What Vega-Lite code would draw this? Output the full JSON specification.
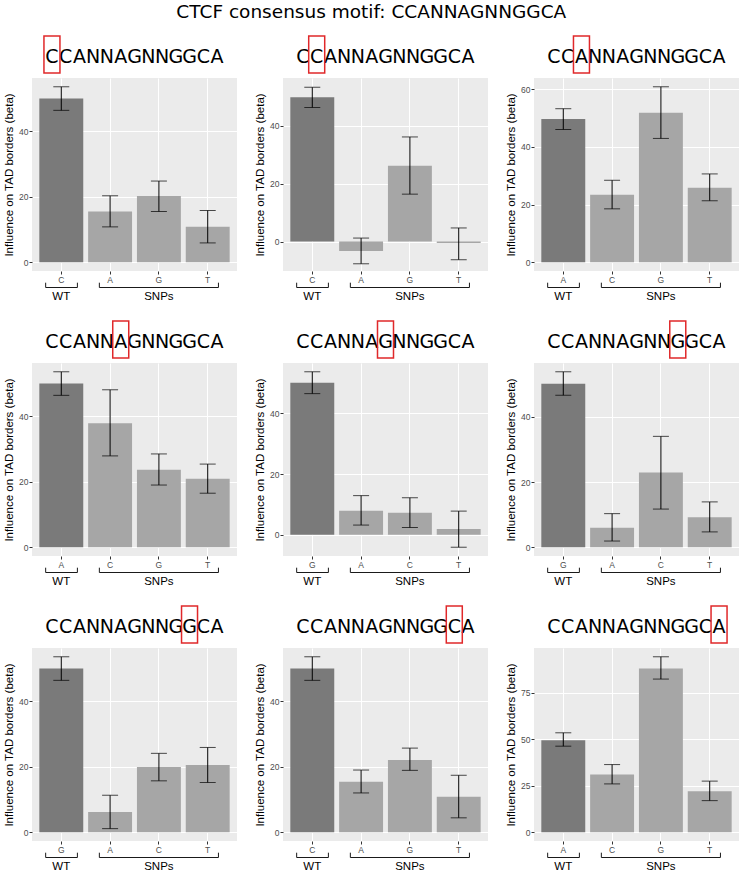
{
"$schema":"https://vega.github.io/schema/vega-lite/v6.json",
"padding":{"left":3,"top":2,"right":0,"bottom":0},
"title":{"text":"CTCF consensus motif: CCANNAGNNGGCA","font":"DejaVu Sans","fontSize":18.5,"fontWeight":"normal","color":"black","anchor":"middle","offset":14},
"datasets":{"motif":[{"i":1,"ch":"C"},{"i":2,"ch":"C"},{"i":3,"ch":"A"},{"i":4,"ch":"N"},{"i":5,"ch":"N"},{"i":6,"ch":"A"},{"i":7,"ch":"G"},{"i":8,"ch":"N"},{"i":9,"ch":"N"},{"i":10,"ch":"G"},{"i":11,"ch":"G"},{"i":12,"ch":"C"},{"i":13,"ch":"A"}]},
"config":{"view":{"stroke":null},"font":"Liberation Sans",
 "axis":{"domain":false,"gridColor":"white","tickColor":"#333333","tickSize":3,"labelPadding":1,"labelColor":"#4D4D4D","labelFontSize":8.5,"labelFont":"Liberation Sans","titleFont":"Liberation Sans","titleFontSize":11.5,"titleFontWeight":"normal","titleColor":"black","titlePadding":4,"labelOverlap":false}},
"spacing":16,
"vconcat":[
{"spacing":17,"hconcat":[
 {"bounds":"flush","spacing":5,"vconcat":[
  {"width":205,"height":37,"data":{"name":"motif"},"encoding":{"x":{"field":"i","type":"quantitative","scale":{"domain":[-0.45,14.45],"nice":false,"zero":false},"axis":null}},
   "layer":[{"mark":{"type":"text","font":"DejaVu Sans","fontSize":19,"baseline":"middle","dy":2,"color":"black"},"encoding":{"text":{"field":"ch"}}},
            {"transform":[{"filter":"datum.i === 1"}],"mark":{"type":"rect","width":16,"fill":"transparent","stroke":"#e0282a","strokeWidth":1.5},"encoding":{}}]},
  {"width":205,"height":193,"view":{"fill":"#EBEBEB","stroke":null},
   "data":{"values":[{"base":"C","group":"WT","beta":50.0,"lo":46.4,"hi":53.6},{"base":"A","group":"SNPs","beta":15.5,"lo":10.8,"hi":20.3},{"base":"G","group":"SNPs","beta":20.2,"lo":15.5,"hi":24.8},{"base":"T","group":"SNPs","beta":10.8,"lo":5.9,"hi":15.8}]},
   "encoding":{"x":{"field":"base","type":"nominal","sort":null,"scale":{"paddingInner":0.1,"paddingOuter":0.15},"axis":{"title":null,"labelAngle":0,"grid":true,"gridWidth":1.1}}},
   "layer":[
    {"mark":"bar","encoding":{"y":{"field":"beta","type":"quantitative","scale":{"domain":[-2.68,56.28],"nice":false,"zero":false},"axis":{"title":"Influence on TAD borders (beta)","values":[0,10,20,30,40,50],"labelExpr":"datum.value % 20 === 0 ? datum.label : ''","gridWidth":{"condition":{"test":"datum.value % 20 === 0","value":1.1},"value":0.5},"tickOpacity":{"condition":{"test":"datum.value % 20 === 0","value":1},"value":0}}},"color":{"field":"group","type":"nominal","scale":{"domain":["WT","SNPs"],"range":["#7a7a7a","#a6a6a6"]},"legend":null}}},
    {"mark":{"type":"rule","color":"black"},"encoding":{"y":{"field":"lo","type":"quantitative","scale":{"domain":[-2.68,56.28],"nice":false,"zero":false}},"y2":{"field":"hi"}}},
    {"mark":{"type":"tick","color":"black","size":16,"thickness":1},"encoding":{"y":{"field":"lo","type":"quantitative","scale":{"domain":[-2.68,56.28],"nice":false,"zero":false}}}},
    {"mark":{"type":"tick","color":"black","size":16,"thickness":1},"encoding":{"y":{"field":"hi","type":"quantitative","scale":{"domain":[-2.68,56.28],"nice":false,"zero":false}}}}]},
  {"width":205,"height":28,"data":{"values":[{}]},"layer":[
   {"mark":{"type":"rule","color":"#1a1a1a"},"encoding":{"x":{"datum":0.68,"type":"quantitative","scale":{"domain":[0.4,4.6]},"axis":null},"x2":{"datum":1.33},"y":{"datum":16.5,"type":"quantitative","scale":{"domain":[0,28]},"axis":null}}},
   {"mark":{"type":"rule","color":"#1a1a1a"},"encoding":{"x":{"datum":0.68,"type":"quantitative","scale":{"domain":[0.4,4.6]},"axis":null},"y":{"datum":16.5,"type":"quantitative","scale":{"domain":[0,28]},"axis":null},"y2":{"datum":21.3}}},
   {"mark":{"type":"rule","color":"#1a1a1a"},"encoding":{"x":{"datum":1.33,"type":"quantitative","scale":{"domain":[0.4,4.6]},"axis":null},"y":{"datum":16.5,"type":"quantitative","scale":{"domain":[0,28]},"axis":null},"y2":{"datum":21.3}}},
   {"mark":{"type":"rule","color":"#1a1a1a"},"encoding":{"x":{"datum":1.78,"type":"quantitative","scale":{"domain":[0.4,4.6]},"axis":null},"x2":{"datum":4.22},"y":{"datum":16.5,"type":"quantitative","scale":{"domain":[0,28]},"axis":null}}},
   {"mark":{"type":"rule","color":"#1a1a1a"},"encoding":{"x":{"datum":1.78,"type":"quantitative","scale":{"domain":[0.4,4.6]},"axis":null},"y":{"datum":16.5,"type":"quantitative","scale":{"domain":[0,28]},"axis":null},"y2":{"datum":21.3}}},
   {"mark":{"type":"rule","color":"#1a1a1a"},"encoding":{"x":{"datum":4.22,"type":"quantitative","scale":{"domain":[0.4,4.6]},"axis":null},"y":{"datum":16.5,"type":"quantitative","scale":{"domain":[0,28]},"axis":null},"y2":{"datum":21.3}}},
   {"mark":{"type":"text","text":"WT","font":"Liberation Sans","fontSize":11.5,"baseline":"middle","color":"black"},"encoding":{"x":{"datum":1,"type":"quantitative","scale":{"domain":[0.4,4.6]},"axis":null},"y":{"datum":7,"type":"quantitative","scale":{"domain":[0,28]},"axis":null}}},
   {"mark":{"type":"text","text":"SNPs","font":"Liberation Sans","fontSize":11.5,"baseline":"middle","color":"black"},"encoding":{"x":{"datum":3,"type":"quantitative","scale":{"domain":[0.4,4.6]},"axis":null},"y":{"datum":7,"type":"quantitative","scale":{"domain":[0,28]},"axis":null}}}]}
 ]},
 {"bounds":"flush","spacing":5,"vconcat":[
  {"width":205,"height":37,"data":{"name":"motif"},"encoding":{"x":{"field":"i","type":"quantitative","scale":{"domain":[-0.45,14.45],"nice":false,"zero":false},"axis":null}},
   "layer":[{"mark":{"type":"text","font":"DejaVu Sans","fontSize":19,"baseline":"middle","dy":2,"color":"black"},"encoding":{"text":{"field":"ch"}}},
            {"transform":[{"filter":"datum.i === 2"}],"mark":{"type":"rect","width":16,"fill":"transparent","stroke":"#e0282a","strokeWidth":1.5},"encoding":{}}]},
  {"width":205,"height":193,"view":{"fill":"#EBEBEB","stroke":null},
   "data":{"values":[{"base":"C","group":"WT","beta":49.9,"lo":46.4,"hi":53.4},{"base":"A","group":"SNPs","beta":-3.3,"lo":-7.7,"hi":1.2},{"base":"G","group":"SNPs","beta":26.2,"lo":16.4,"hi":36.2},{"base":"T","group":"SNPs","beta":-0.5,"lo":-6.3,"hi":4.7}]},
   "encoding":{"x":{"field":"base","type":"nominal","sort":null,"scale":{"paddingInner":0.1,"paddingOuter":0.15},"axis":{"title":null,"labelAngle":0,"grid":true,"gridWidth":1.1}}},
   "layer":[
    {"mark":"bar","encoding":{"y":{"field":"beta","type":"quantitative","scale":{"domain":[-10.2,56.6],"nice":false,"zero":false},"axis":{"title":"Influence on TAD borders (beta)","values":[0,10,20,30,40,50],"labelExpr":"datum.value % 20 === 0 ? datum.label : ''","gridWidth":{"condition":{"test":"datum.value % 20 === 0","value":1.1},"value":0.5},"tickOpacity":{"condition":{"test":"datum.value % 20 === 0","value":1},"value":0}}},"color":{"field":"group","type":"nominal","scale":{"domain":["WT","SNPs"],"range":["#7a7a7a","#a6a6a6"]},"legend":null}}},
    {"mark":{"type":"rule","color":"black"},"encoding":{"y":{"field":"lo","type":"quantitative","scale":{"domain":[-10.2,56.6],"nice":false,"zero":false}},"y2":{"field":"hi"}}},
    {"mark":{"type":"tick","color":"black","size":16,"thickness":1},"encoding":{"y":{"field":"lo","type":"quantitative","scale":{"domain":[-10.2,56.6],"nice":false,"zero":false}}}},
    {"mark":{"type":"tick","color":"black","size":16,"thickness":1},"encoding":{"y":{"field":"hi","type":"quantitative","scale":{"domain":[-10.2,56.6],"nice":false,"zero":false}}}}]},
  {"width":205,"height":28,"data":{"values":[{}]},"layer":[
   {"mark":{"type":"rule","color":"#1a1a1a"},"encoding":{"x":{"datum":0.68,"type":"quantitative","scale":{"domain":[0.4,4.6]},"axis":null},"x2":{"datum":1.33},"y":{"datum":16.5,"type":"quantitative","scale":{"domain":[0,28]},"axis":null}}},
   {"mark":{"type":"rule","color":"#1a1a1a"},"encoding":{"x":{"datum":0.68,"type":"quantitative","scale":{"domain":[0.4,4.6]},"axis":null},"y":{"datum":16.5,"type":"quantitative","scale":{"domain":[0,28]},"axis":null},"y2":{"datum":21.3}}},
   {"mark":{"type":"rule","color":"#1a1a1a"},"encoding":{"x":{"datum":1.33,"type":"quantitative","scale":{"domain":[0.4,4.6]},"axis":null},"y":{"datum":16.5,"type":"quantitative","scale":{"domain":[0,28]},"axis":null},"y2":{"datum":21.3}}},
   {"mark":{"type":"rule","color":"#1a1a1a"},"encoding":{"x":{"datum":1.78,"type":"quantitative","scale":{"domain":[0.4,4.6]},"axis":null},"x2":{"datum":4.22},"y":{"datum":16.5,"type":"quantitative","scale":{"domain":[0,28]},"axis":null}}},
   {"mark":{"type":"rule","color":"#1a1a1a"},"encoding":{"x":{"datum":1.78,"type":"quantitative","scale":{"domain":[0.4,4.6]},"axis":null},"y":{"datum":16.5,"type":"quantitative","scale":{"domain":[0,28]},"axis":null},"y2":{"datum":21.3}}},
   {"mark":{"type":"rule","color":"#1a1a1a"},"encoding":{"x":{"datum":4.22,"type":"quantitative","scale":{"domain":[0.4,4.6]},"axis":null},"y":{"datum":16.5,"type":"quantitative","scale":{"domain":[0,28]},"axis":null},"y2":{"datum":21.3}}},
   {"mark":{"type":"text","text":"WT","font":"Liberation Sans","fontSize":11.5,"baseline":"middle","color":"black"},"encoding":{"x":{"datum":1,"type":"quantitative","scale":{"domain":[0.4,4.6]},"axis":null},"y":{"datum":7,"type":"quantitative","scale":{"domain":[0,28]},"axis":null}}},
   {"mark":{"type":"text","text":"SNPs","font":"Liberation Sans","fontSize":11.5,"baseline":"middle","color":"black"},"encoding":{"x":{"datum":3,"type":"quantitative","scale":{"domain":[0.4,4.6]},"axis":null},"y":{"datum":7,"type":"quantitative","scale":{"domain":[0,28]},"axis":null}}}]}
 ]},
 {"bounds":"flush","spacing":5,"vconcat":[
  {"width":205,"height":37,"data":{"name":"motif"},"encoding":{"x":{"field":"i","type":"quantitative","scale":{"domain":[-0.45,14.45],"nice":false,"zero":false},"axis":null}},
   "layer":[{"mark":{"type":"text","font":"DejaVu Sans","fontSize":19,"baseline":"middle","dy":2,"color":"black"},"encoding":{"text":{"field":"ch"}}},
            {"transform":[{"filter":"datum.i === 3"}],"mark":{"type":"rect","width":16,"fill":"transparent","stroke":"#e0282a","strokeWidth":1.5},"encoding":{}}]},
  {"width":205,"height":193,"view":{"fill":"#EBEBEB","stroke":null},
   "data":{"values":[{"base":"A","group":"WT","beta":49.6,"lo":46.0,"hi":53.2},{"base":"C","group":"SNPs","beta":23.4,"lo":18.5,"hi":28.4},{"base":"G","group":"SNPs","beta":51.8,"lo":42.9,"hi":60.8},{"base":"T","group":"SNPs","beta":25.8,"lo":21.3,"hi":30.6}]},
   "encoding":{"x":{"field":"base","type":"nominal","sort":null,"scale":{"paddingInner":0.1,"paddingOuter":0.15},"axis":{"title":null,"labelAngle":0,"grid":true,"gridWidth":1.1}}},
   "layer":[
    {"mark":"bar","encoding":{"y":{"field":"beta","type":"quantitative","scale":{"domain":[-3.04,63.84],"nice":false,"zero":false},"axis":{"title":"Influence on TAD borders (beta)","values":[0,10,20,30,40,50,60],"labelExpr":"datum.value % 20 === 0 ? datum.label : ''","gridWidth":{"condition":{"test":"datum.value % 20 === 0","value":1.1},"value":0.5},"tickOpacity":{"condition":{"test":"datum.value % 20 === 0","value":1},"value":0}}},"color":{"field":"group","type":"nominal","scale":{"domain":["WT","SNPs"],"range":["#7a7a7a","#a6a6a6"]},"legend":null}}},
    {"mark":{"type":"rule","color":"black"},"encoding":{"y":{"field":"lo","type":"quantitative","scale":{"domain":[-3.04,63.84],"nice":false,"zero":false}},"y2":{"field":"hi"}}},
    {"mark":{"type":"tick","color":"black","size":16,"thickness":1},"encoding":{"y":{"field":"lo","type":"quantitative","scale":{"domain":[-3.04,63.84],"nice":false,"zero":false}}}},
    {"mark":{"type":"tick","color":"black","size":16,"thickness":1},"encoding":{"y":{"field":"hi","type":"quantitative","scale":{"domain":[-3.04,63.84],"nice":false,"zero":false}}}}]},
  {"width":205,"height":28,"data":{"values":[{}]},"layer":[
   {"mark":{"type":"rule","color":"#1a1a1a"},"encoding":{"x":{"datum":0.68,"type":"quantitative","scale":{"domain":[0.4,4.6]},"axis":null},"x2":{"datum":1.33},"y":{"datum":16.5,"type":"quantitative","scale":{"domain":[0,28]},"axis":null}}},
   {"mark":{"type":"rule","color":"#1a1a1a"},"encoding":{"x":{"datum":0.68,"type":"quantitative","scale":{"domain":[0.4,4.6]},"axis":null},"y":{"datum":16.5,"type":"quantitative","scale":{"domain":[0,28]},"axis":null},"y2":{"datum":21.3}}},
   {"mark":{"type":"rule","color":"#1a1a1a"},"encoding":{"x":{"datum":1.33,"type":"quantitative","scale":{"domain":[0.4,4.6]},"axis":null},"y":{"datum":16.5,"type":"quantitative","scale":{"domain":[0,28]},"axis":null},"y2":{"datum":21.3}}},
   {"mark":{"type":"rule","color":"#1a1a1a"},"encoding":{"x":{"datum":1.78,"type":"quantitative","scale":{"domain":[0.4,4.6]},"axis":null},"x2":{"datum":4.22},"y":{"datum":16.5,"type":"quantitative","scale":{"domain":[0,28]},"axis":null}}},
   {"mark":{"type":"rule","color":"#1a1a1a"},"encoding":{"x":{"datum":1.78,"type":"quantitative","scale":{"domain":[0.4,4.6]},"axis":null},"y":{"datum":16.5,"type":"quantitative","scale":{"domain":[0,28]},"axis":null},"y2":{"datum":21.3}}},
   {"mark":{"type":"rule","color":"#1a1a1a"},"encoding":{"x":{"datum":4.22,"type":"quantitative","scale":{"domain":[0.4,4.6]},"axis":null},"y":{"datum":16.5,"type":"quantitative","scale":{"domain":[0,28]},"axis":null},"y2":{"datum":21.3}}},
   {"mark":{"type":"text","text":"WT","font":"Liberation Sans","fontSize":11.5,"baseline":"middle","color":"black"},"encoding":{"x":{"datum":1,"type":"quantitative","scale":{"domain":[0.4,4.6]},"axis":null},"y":{"datum":7,"type":"quantitative","scale":{"domain":[0,28]},"axis":null}}},
   {"mark":{"type":"text","text":"SNPs","font":"Liberation Sans","fontSize":11.5,"baseline":"middle","color":"black"},"encoding":{"x":{"datum":3,"type":"quantitative","scale":{"domain":[0.4,4.6]},"axis":null},"y":{"datum":7,"type":"quantitative","scale":{"domain":[0,28]},"axis":null}}}]}
 ]}
]},
{"spacing":17,"hconcat":[
 {"bounds":"flush","spacing":5,"vconcat":[
  {"width":205,"height":37,"data":{"name":"motif"},"encoding":{"x":{"field":"i","type":"quantitative","scale":{"domain":[-0.45,14.45],"nice":false,"zero":false},"axis":null}},
   "layer":[{"mark":{"type":"text","font":"DejaVu Sans","fontSize":19,"baseline":"middle","dy":2,"color":"black"},"encoding":{"text":{"field":"ch"}}},
            {"transform":[{"filter":"datum.i === 6"}],"mark":{"type":"rect","width":16,"fill":"transparent","stroke":"#e0282a","strokeWidth":1.5},"encoding":{}}]},
  {"width":205,"height":193,"view":{"fill":"#EBEBEB","stroke":null},
   "data":{"values":[{"base":"A","group":"WT","beta":50.0,"lo":46.4,"hi":53.6},{"base":"C","group":"SNPs","beta":37.9,"lo":27.9,"hi":48.1},{"base":"G","group":"SNPs","beta":23.7,"lo":19.0,"hi":28.5},{"base":"T","group":"SNPs","beta":20.9,"lo":16.5,"hi":25.4}]},
   "encoding":{"x":{"field":"base","type":"nominal","sort":null,"scale":{"paddingInner":0.1,"paddingOuter":0.15},"axis":{"title":null,"labelAngle":0,"grid":true,"gridWidth":1.1}}},
   "layer":[
    {"mark":"bar","encoding":{"y":{"field":"beta","type":"quantitative","scale":{"domain":[-2.68,56.28],"nice":false,"zero":false},"axis":{"title":"Influence on TAD borders (beta)","values":[0,10,20,30,40,50],"labelExpr":"datum.value % 20 === 0 ? datum.label : ''","gridWidth":{"condition":{"test":"datum.value % 20 === 0","value":1.1},"value":0.5},"tickOpacity":{"condition":{"test":"datum.value % 20 === 0","value":1},"value":0}}},"color":{"field":"group","type":"nominal","scale":{"domain":["WT","SNPs"],"range":["#7a7a7a","#a6a6a6"]},"legend":null}}},
    {"mark":{"type":"rule","color":"black"},"encoding":{"y":{"field":"lo","type":"quantitative","scale":{"domain":[-2.68,56.28],"nice":false,"zero":false}},"y2":{"field":"hi"}}},
    {"mark":{"type":"tick","color":"black","size":16,"thickness":1},"encoding":{"y":{"field":"lo","type":"quantitative","scale":{"domain":[-2.68,56.28],"nice":false,"zero":false}}}},
    {"mark":{"type":"tick","color":"black","size":16,"thickness":1},"encoding":{"y":{"field":"hi","type":"quantitative","scale":{"domain":[-2.68,56.28],"nice":false,"zero":false}}}}]},
  {"width":205,"height":28,"data":{"values":[{}]},"layer":[
   {"mark":{"type":"rule","color":"#1a1a1a"},"encoding":{"x":{"datum":0.68,"type":"quantitative","scale":{"domain":[0.4,4.6]},"axis":null},"x2":{"datum":1.33},"y":{"datum":16.5,"type":"quantitative","scale":{"domain":[0,28]},"axis":null}}},
   {"mark":{"type":"rule","color":"#1a1a1a"},"encoding":{"x":{"datum":0.68,"type":"quantitative","scale":{"domain":[0.4,4.6]},"axis":null},"y":{"datum":16.5,"type":"quantitative","scale":{"domain":[0,28]},"axis":null},"y2":{"datum":21.3}}},
   {"mark":{"type":"rule","color":"#1a1a1a"},"encoding":{"x":{"datum":1.33,"type":"quantitative","scale":{"domain":[0.4,4.6]},"axis":null},"y":{"datum":16.5,"type":"quantitative","scale":{"domain":[0,28]},"axis":null},"y2":{"datum":21.3}}},
   {"mark":{"type":"rule","color":"#1a1a1a"},"encoding":{"x":{"datum":1.78,"type":"quantitative","scale":{"domain":[0.4,4.6]},"axis":null},"x2":{"datum":4.22},"y":{"datum":16.5,"type":"quantitative","scale":{"domain":[0,28]},"axis":null}}},
   {"mark":{"type":"rule","color":"#1a1a1a"},"encoding":{"x":{"datum":1.78,"type":"quantitative","scale":{"domain":[0.4,4.6]},"axis":null},"y":{"datum":16.5,"type":"quantitative","scale":{"domain":[0,28]},"axis":null},"y2":{"datum":21.3}}},
   {"mark":{"type":"rule","color":"#1a1a1a"},"encoding":{"x":{"datum":4.22,"type":"quantitative","scale":{"domain":[0.4,4.6]},"axis":null},"y":{"datum":16.5,"type":"quantitative","scale":{"domain":[0,28]},"axis":null},"y2":{"datum":21.3}}},
   {"mark":{"type":"text","text":"WT","font":"Liberation Sans","fontSize":11.5,"baseline":"middle","color":"black"},"encoding":{"x":{"datum":1,"type":"quantitative","scale":{"domain":[0.4,4.6]},"axis":null},"y":{"datum":7,"type":"quantitative","scale":{"domain":[0,28]},"axis":null}}},
   {"mark":{"type":"text","text":"SNPs","font":"Liberation Sans","fontSize":11.5,"baseline":"middle","color":"black"},"encoding":{"x":{"datum":3,"type":"quantitative","scale":{"domain":[0.4,4.6]},"axis":null},"y":{"datum":7,"type":"quantitative","scale":{"domain":[0,28]},"axis":null}}}]}
 ]},
 {"bounds":"flush","spacing":5,"vconcat":[
  {"width":205,"height":37,"data":{"name":"motif"},"encoding":{"x":{"field":"i","type":"quantitative","scale":{"domain":[-0.45,14.45],"nice":false,"zero":false},"axis":null}},
   "layer":[{"mark":{"type":"text","font":"DejaVu Sans","fontSize":19,"baseline":"middle","dy":2,"color":"black"},"encoding":{"text":{"field":"ch"}}},
            {"transform":[{"filter":"datum.i === 7"}],"mark":{"type":"rect","width":16,"fill":"transparent","stroke":"#e0282a","strokeWidth":1.5},"encoding":{}}]},
  {"width":205,"height":193,"view":{"fill":"#EBEBEB","stroke":null},
   "data":{"values":[{"base":"G","group":"WT","beta":50.1,"lo":46.5,"hi":53.7},{"base":"A","group":"SNPs","beta":7.9,"lo":3.2,"hi":12.9},{"base":"C","group":"SNPs","beta":7.25,"lo":2.4,"hi":12.2},{"base":"T","group":"SNPs","beta":1.9,"lo":-4.1,"hi":7.8}]},
   "encoding":{"x":{"field":"base","type":"nominal","sort":null,"scale":{"paddingInner":0.1,"paddingOuter":0.15},"axis":{"title":null,"labelAngle":0,"grid":true,"gridWidth":1.1}}},
   "layer":[
    {"mark":"bar","encoding":{"y":{"field":"beta","type":"quantitative","scale":{"domain":[-6.99,56.59],"nice":false,"zero":false},"axis":{"title":"Influence on TAD borders (beta)","values":[0,10,20,30,40,50],"labelExpr":"datum.value % 20 === 0 ? datum.label : ''","gridWidth":{"condition":{"test":"datum.value % 20 === 0","value":1.1},"value":0.5},"tickOpacity":{"condition":{"test":"datum.value % 20 === 0","value":1},"value":0}}},"color":{"field":"group","type":"nominal","scale":{"domain":["WT","SNPs"],"range":["#7a7a7a","#a6a6a6"]},"legend":null}}},
    {"mark":{"type":"rule","color":"black"},"encoding":{"y":{"field":"lo","type":"quantitative","scale":{"domain":[-6.99,56.59],"nice":false,"zero":false}},"y2":{"field":"hi"}}},
    {"mark":{"type":"tick","color":"black","size":16,"thickness":1},"encoding":{"y":{"field":"lo","type":"quantitative","scale":{"domain":[-6.99,56.59],"nice":false,"zero":false}}}},
    {"mark":{"type":"tick","color":"black","size":16,"thickness":1},"encoding":{"y":{"field":"hi","type":"quantitative","scale":{"domain":[-6.99,56.59],"nice":false,"zero":false}}}}]},
  {"width":205,"height":28,"data":{"values":[{}]},"layer":[
   {"mark":{"type":"rule","color":"#1a1a1a"},"encoding":{"x":{"datum":0.68,"type":"quantitative","scale":{"domain":[0.4,4.6]},"axis":null},"x2":{"datum":1.33},"y":{"datum":16.5,"type":"quantitative","scale":{"domain":[0,28]},"axis":null}}},
   {"mark":{"type":"rule","color":"#1a1a1a"},"encoding":{"x":{"datum":0.68,"type":"quantitative","scale":{"domain":[0.4,4.6]},"axis":null},"y":{"datum":16.5,"type":"quantitative","scale":{"domain":[0,28]},"axis":null},"y2":{"datum":21.3}}},
   {"mark":{"type":"rule","color":"#1a1a1a"},"encoding":{"x":{"datum":1.33,"type":"quantitative","scale":{"domain":[0.4,4.6]},"axis":null},"y":{"datum":16.5,"type":"quantitative","scale":{"domain":[0,28]},"axis":null},"y2":{"datum":21.3}}},
   {"mark":{"type":"rule","color":"#1a1a1a"},"encoding":{"x":{"datum":1.78,"type":"quantitative","scale":{"domain":[0.4,4.6]},"axis":null},"x2":{"datum":4.22},"y":{"datum":16.5,"type":"quantitative","scale":{"domain":[0,28]},"axis":null}}},
   {"mark":{"type":"rule","color":"#1a1a1a"},"encoding":{"x":{"datum":1.78,"type":"quantitative","scale":{"domain":[0.4,4.6]},"axis":null},"y":{"datum":16.5,"type":"quantitative","scale":{"domain":[0,28]},"axis":null},"y2":{"datum":21.3}}},
   {"mark":{"type":"rule","color":"#1a1a1a"},"encoding":{"x":{"datum":4.22,"type":"quantitative","scale":{"domain":[0.4,4.6]},"axis":null},"y":{"datum":16.5,"type":"quantitative","scale":{"domain":[0,28]},"axis":null},"y2":{"datum":21.3}}},
   {"mark":{"type":"text","text":"WT","font":"Liberation Sans","fontSize":11.5,"baseline":"middle","color":"black"},"encoding":{"x":{"datum":1,"type":"quantitative","scale":{"domain":[0.4,4.6]},"axis":null},"y":{"datum":7,"type":"quantitative","scale":{"domain":[0,28]},"axis":null}}},
   {"mark":{"type":"text","text":"SNPs","font":"Liberation Sans","fontSize":11.5,"baseline":"middle","color":"black"},"encoding":{"x":{"datum":3,"type":"quantitative","scale":{"domain":[0.4,4.6]},"axis":null},"y":{"datum":7,"type":"quantitative","scale":{"domain":[0,28]},"axis":null}}}]}
 ]},
 {"bounds":"flush","spacing":5,"vconcat":[
  {"width":205,"height":37,"data":{"name":"motif"},"encoding":{"x":{"field":"i","type":"quantitative","scale":{"domain":[-0.45,14.45],"nice":false,"zero":false},"axis":null}},
   "layer":[{"mark":{"type":"text","font":"DejaVu Sans","fontSize":19,"baseline":"middle","dy":2,"color":"black"},"encoding":{"text":{"field":"ch"}}},
            {"transform":[{"filter":"datum.i === 10"}],"mark":{"type":"rect","width":16,"fill":"transparent","stroke":"#e0282a","strokeWidth":1.5},"encoding":{}}]},
  {"width":205,"height":193,"view":{"fill":"#EBEBEB","stroke":null},
   "data":{"values":[{"base":"G","group":"WT","beta":50.1,"lo":46.6,"hi":53.8},{"base":"A","group":"SNPs","beta":6.0,"lo":1.9,"hi":10.3},{"base":"C","group":"SNPs","beta":22.9,"lo":11.7,"hi":34.0},{"base":"T","group":"SNPs","beta":9.2,"lo":4.7,"hi":13.9}]},
   "encoding":{"x":{"field":"base","type":"nominal","sort":null,"scale":{"paddingInner":0.1,"paddingOuter":0.15},"axis":{"title":null,"labelAngle":0,"grid":true,"gridWidth":1.1}}},
   "layer":[
    {"mark":"bar","encoding":{"y":{"field":"beta","type":"quantitative","scale":{"domain":[-2.69,56.49],"nice":false,"zero":false},"axis":{"title":"Influence on TAD borders (beta)","values":[0,10,20,30,40,50],"labelExpr":"datum.value % 20 === 0 ? datum.label : ''","gridWidth":{"condition":{"test":"datum.value % 20 === 0","value":1.1},"value":0.5},"tickOpacity":{"condition":{"test":"datum.value % 20 === 0","value":1},"value":0}}},"color":{"field":"group","type":"nominal","scale":{"domain":["WT","SNPs"],"range":["#7a7a7a","#a6a6a6"]},"legend":null}}},
    {"mark":{"type":"rule","color":"black"},"encoding":{"y":{"field":"lo","type":"quantitative","scale":{"domain":[-2.69,56.49],"nice":false,"zero":false}},"y2":{"field":"hi"}}},
    {"mark":{"type":"tick","color":"black","size":16,"thickness":1},"encoding":{"y":{"field":"lo","type":"quantitative","scale":{"domain":[-2.69,56.49],"nice":false,"zero":false}}}},
    {"mark":{"type":"tick","color":"black","size":16,"thickness":1},"encoding":{"y":{"field":"hi","type":"quantitative","scale":{"domain":[-2.69,56.49],"nice":false,"zero":false}}}}]},
  {"width":205,"height":28,"data":{"values":[{}]},"layer":[
   {"mark":{"type":"rule","color":"#1a1a1a"},"encoding":{"x":{"datum":0.68,"type":"quantitative","scale":{"domain":[0.4,4.6]},"axis":null},"x2":{"datum":1.33},"y":{"datum":16.5,"type":"quantitative","scale":{"domain":[0,28]},"axis":null}}},
   {"mark":{"type":"rule","color":"#1a1a1a"},"encoding":{"x":{"datum":0.68,"type":"quantitative","scale":{"domain":[0.4,4.6]},"axis":null},"y":{"datum":16.5,"type":"quantitative","scale":{"domain":[0,28]},"axis":null},"y2":{"datum":21.3}}},
   {"mark":{"type":"rule","color":"#1a1a1a"},"encoding":{"x":{"datum":1.33,"type":"quantitative","scale":{"domain":[0.4,4.6]},"axis":null},"y":{"datum":16.5,"type":"quantitative","scale":{"domain":[0,28]},"axis":null},"y2":{"datum":21.3}}},
   {"mark":{"type":"rule","color":"#1a1a1a"},"encoding":{"x":{"datum":1.78,"type":"quantitative","scale":{"domain":[0.4,4.6]},"axis":null},"x2":{"datum":4.22},"y":{"datum":16.5,"type":"quantitative","scale":{"domain":[0,28]},"axis":null}}},
   {"mark":{"type":"rule","color":"#1a1a1a"},"encoding":{"x":{"datum":1.78,"type":"quantitative","scale":{"domain":[0.4,4.6]},"axis":null},"y":{"datum":16.5,"type":"quantitative","scale":{"domain":[0,28]},"axis":null},"y2":{"datum":21.3}}},
   {"mark":{"type":"rule","color":"#1a1a1a"},"encoding":{"x":{"datum":4.22,"type":"quantitative","scale":{"domain":[0.4,4.6]},"axis":null},"y":{"datum":16.5,"type":"quantitative","scale":{"domain":[0,28]},"axis":null},"y2":{"datum":21.3}}},
   {"mark":{"type":"text","text":"WT","font":"Liberation Sans","fontSize":11.5,"baseline":"middle","color":"black"},"encoding":{"x":{"datum":1,"type":"quantitative","scale":{"domain":[0.4,4.6]},"axis":null},"y":{"datum":7,"type":"quantitative","scale":{"domain":[0,28]},"axis":null}}},
   {"mark":{"type":"text","text":"SNPs","font":"Liberation Sans","fontSize":11.5,"baseline":"middle","color":"black"},"encoding":{"x":{"datum":3,"type":"quantitative","scale":{"domain":[0.4,4.6]},"axis":null},"y":{"datum":7,"type":"quantitative","scale":{"domain":[0,28]},"axis":null}}}]}
 ]}
]},
{"spacing":17,"hconcat":[
 {"bounds":"flush","spacing":5,"vconcat":[
  {"width":205,"height":37,"data":{"name":"motif"},"encoding":{"x":{"field":"i","type":"quantitative","scale":{"domain":[-0.45,14.45],"nice":false,"zero":false},"axis":null}},
   "layer":[{"mark":{"type":"text","font":"DejaVu Sans","fontSize":19,"baseline":"middle","dy":2,"color":"black"},"encoding":{"text":{"field":"ch"}}},
            {"transform":[{"filter":"datum.i === 11"}],"mark":{"type":"rect","width":16,"fill":"transparent","stroke":"#e0282a","strokeWidth":1.5},"encoding":{}}]},
  {"width":205,"height":193,"view":{"fill":"#EBEBEB","stroke":null},
   "data":{"values":[{"base":"G","group":"WT","beta":50.0,"lo":46.4,"hi":53.6},{"base":"A","group":"SNPs","beta":6.2,"lo":1.1,"hi":11.3},{"base":"C","group":"SNPs","beta":19.9,"lo":15.7,"hi":24.1},{"base":"T","group":"SNPs","beta":20.5,"lo":15.2,"hi":25.9}]},
   "encoding":{"x":{"field":"base","type":"nominal","sort":null,"scale":{"paddingInner":0.1,"paddingOuter":0.15},"axis":{"title":null,"labelAngle":0,"grid":true,"gridWidth":1.1}}},
   "layer":[
    {"mark":"bar","encoding":{"y":{"field":"beta","type":"quantitative","scale":{"domain":[-2.68,56.28],"nice":false,"zero":false},"axis":{"title":"Influence on TAD borders (beta)","values":[0,10,20,30,40,50],"labelExpr":"datum.value % 20 === 0 ? datum.label : ''","gridWidth":{"condition":{"test":"datum.value % 20 === 0","value":1.1},"value":0.5},"tickOpacity":{"condition":{"test":"datum.value % 20 === 0","value":1},"value":0}}},"color":{"field":"group","type":"nominal","scale":{"domain":["WT","SNPs"],"range":["#7a7a7a","#a6a6a6"]},"legend":null}}},
    {"mark":{"type":"rule","color":"black"},"encoding":{"y":{"field":"lo","type":"quantitative","scale":{"domain":[-2.68,56.28],"nice":false,"zero":false}},"y2":{"field":"hi"}}},
    {"mark":{"type":"tick","color":"black","size":16,"thickness":1},"encoding":{"y":{"field":"lo","type":"quantitative","scale":{"domain":[-2.68,56.28],"nice":false,"zero":false}}}},
    {"mark":{"type":"tick","color":"black","size":16,"thickness":1},"encoding":{"y":{"field":"hi","type":"quantitative","scale":{"domain":[-2.68,56.28],"nice":false,"zero":false}}}}]},
  {"width":205,"height":28,"data":{"values":[{}]},"layer":[
   {"mark":{"type":"rule","color":"#1a1a1a"},"encoding":{"x":{"datum":0.68,"type":"quantitative","scale":{"domain":[0.4,4.6]},"axis":null},"x2":{"datum":1.33},"y":{"datum":16.5,"type":"quantitative","scale":{"domain":[0,28]},"axis":null}}},
   {"mark":{"type":"rule","color":"#1a1a1a"},"encoding":{"x":{"datum":0.68,"type":"quantitative","scale":{"domain":[0.4,4.6]},"axis":null},"y":{"datum":16.5,"type":"quantitative","scale":{"domain":[0,28]},"axis":null},"y2":{"datum":21.3}}},
   {"mark":{"type":"rule","color":"#1a1a1a"},"encoding":{"x":{"datum":1.33,"type":"quantitative","scale":{"domain":[0.4,4.6]},"axis":null},"y":{"datum":16.5,"type":"quantitative","scale":{"domain":[0,28]},"axis":null},"y2":{"datum":21.3}}},
   {"mark":{"type":"rule","color":"#1a1a1a"},"encoding":{"x":{"datum":1.78,"type":"quantitative","scale":{"domain":[0.4,4.6]},"axis":null},"x2":{"datum":4.22},"y":{"datum":16.5,"type":"quantitative","scale":{"domain":[0,28]},"axis":null}}},
   {"mark":{"type":"rule","color":"#1a1a1a"},"encoding":{"x":{"datum":1.78,"type":"quantitative","scale":{"domain":[0.4,4.6]},"axis":null},"y":{"datum":16.5,"type":"quantitative","scale":{"domain":[0,28]},"axis":null},"y2":{"datum":21.3}}},
   {"mark":{"type":"rule","color":"#1a1a1a"},"encoding":{"x":{"datum":4.22,"type":"quantitative","scale":{"domain":[0.4,4.6]},"axis":null},"y":{"datum":16.5,"type":"quantitative","scale":{"domain":[0,28]},"axis":null},"y2":{"datum":21.3}}},
   {"mark":{"type":"text","text":"WT","font":"Liberation Sans","fontSize":11.5,"baseline":"middle","color":"black"},"encoding":{"x":{"datum":1,"type":"quantitative","scale":{"domain":[0.4,4.6]},"axis":null},"y":{"datum":7,"type":"quantitative","scale":{"domain":[0,28]},"axis":null}}},
   {"mark":{"type":"text","text":"SNPs","font":"Liberation Sans","fontSize":11.5,"baseline":"middle","color":"black"},"encoding":{"x":{"datum":3,"type":"quantitative","scale":{"domain":[0.4,4.6]},"axis":null},"y":{"datum":7,"type":"quantitative","scale":{"domain":[0,28]},"axis":null}}}]}
 ]},
 {"bounds":"flush","spacing":5,"vconcat":[
  {"width":205,"height":37,"data":{"name":"motif"},"encoding":{"x":{"field":"i","type":"quantitative","scale":{"domain":[-0.45,14.45],"nice":false,"zero":false},"axis":null}},
   "layer":[{"mark":{"type":"text","font":"DejaVu Sans","fontSize":19,"baseline":"middle","dy":2,"color":"black"},"encoding":{"text":{"field":"ch"}}},
            {"transform":[{"filter":"datum.i === 12"}],"mark":{"type":"rect","width":16,"fill":"transparent","stroke":"#e0282a","strokeWidth":1.5},"encoding":{}}]},
  {"width":205,"height":193,"view":{"fill":"#EBEBEB","stroke":null},
   "data":{"values":[{"base":"C","group":"WT","beta":50.0,"lo":46.4,"hi":53.6},{"base":"A","group":"SNPs","beta":15.4,"lo":12.0,"hi":19.0},{"base":"G","group":"SNPs","beta":22.1,"lo":18.9,"hi":25.7},{"base":"T","group":"SNPs","beta":10.8,"lo":4.4,"hi":17.4}]},
   "encoding":{"x":{"field":"base","type":"nominal","sort":null,"scale":{"paddingInner":0.1,"paddingOuter":0.15},"axis":{"title":null,"labelAngle":0,"grid":true,"gridWidth":1.1}}},
   "layer":[
    {"mark":"bar","encoding":{"y":{"field":"beta","type":"quantitative","scale":{"domain":[-2.68,56.28],"nice":false,"zero":false},"axis":{"title":"Influence on TAD borders (beta)","values":[0,10,20,30,40,50],"labelExpr":"datum.value % 20 === 0 ? datum.label : ''","gridWidth":{"condition":{"test":"datum.value % 20 === 0","value":1.1},"value":0.5},"tickOpacity":{"condition":{"test":"datum.value % 20 === 0","value":1},"value":0}}},"color":{"field":"group","type":"nominal","scale":{"domain":["WT","SNPs"],"range":["#7a7a7a","#a6a6a6"]},"legend":null}}},
    {"mark":{"type":"rule","color":"black"},"encoding":{"y":{"field":"lo","type":"quantitative","scale":{"domain":[-2.68,56.28],"nice":false,"zero":false}},"y2":{"field":"hi"}}},
    {"mark":{"type":"tick","color":"black","size":16,"thickness":1},"encoding":{"y":{"field":"lo","type":"quantitative","scale":{"domain":[-2.68,56.28],"nice":false,"zero":false}}}},
    {"mark":{"type":"tick","color":"black","size":16,"thickness":1},"encoding":{"y":{"field":"hi","type":"quantitative","scale":{"domain":[-2.68,56.28],"nice":false,"zero":false}}}}]},
  {"width":205,"height":28,"data":{"values":[{}]},"layer":[
   {"mark":{"type":"rule","color":"#1a1a1a"},"encoding":{"x":{"datum":0.68,"type":"quantitative","scale":{"domain":[0.4,4.6]},"axis":null},"x2":{"datum":1.33},"y":{"datum":16.5,"type":"quantitative","scale":{"domain":[0,28]},"axis":null}}},
   {"mark":{"type":"rule","color":"#1a1a1a"},"encoding":{"x":{"datum":0.68,"type":"quantitative","scale":{"domain":[0.4,4.6]},"axis":null},"y":{"datum":16.5,"type":"quantitative","scale":{"domain":[0,28]},"axis":null},"y2":{"datum":21.3}}},
   {"mark":{"type":"rule","color":"#1a1a1a"},"encoding":{"x":{"datum":1.33,"type":"quantitative","scale":{"domain":[0.4,4.6]},"axis":null},"y":{"datum":16.5,"type":"quantitative","scale":{"domain":[0,28]},"axis":null},"y2":{"datum":21.3}}},
   {"mark":{"type":"rule","color":"#1a1a1a"},"encoding":{"x":{"datum":1.78,"type":"quantitative","scale":{"domain":[0.4,4.6]},"axis":null},"x2":{"datum":4.22},"y":{"datum":16.5,"type":"quantitative","scale":{"domain":[0,28]},"axis":null}}},
   {"mark":{"type":"rule","color":"#1a1a1a"},"encoding":{"x":{"datum":1.78,"type":"quantitative","scale":{"domain":[0.4,4.6]},"axis":null},"y":{"datum":16.5,"type":"quantitative","scale":{"domain":[0,28]},"axis":null},"y2":{"datum":21.3}}},
   {"mark":{"type":"rule","color":"#1a1a1a"},"encoding":{"x":{"datum":4.22,"type":"quantitative","scale":{"domain":[0.4,4.6]},"axis":null},"y":{"datum":16.5,"type":"quantitative","scale":{"domain":[0,28]},"axis":null},"y2":{"datum":21.3}}},
   {"mark":{"type":"text","text":"WT","font":"Liberation Sans","fontSize":11.5,"baseline":"middle","color":"black"},"encoding":{"x":{"datum":1,"type":"quantitative","scale":{"domain":[0.4,4.6]},"axis":null},"y":{"datum":7,"type":"quantitative","scale":{"domain":[0,28]},"axis":null}}},
   {"mark":{"type":"text","text":"SNPs","font":"Liberation Sans","fontSize":11.5,"baseline":"middle","color":"black"},"encoding":{"x":{"datum":3,"type":"quantitative","scale":{"domain":[0.4,4.6]},"axis":null},"y":{"datum":7,"type":"quantitative","scale":{"domain":[0,28]},"axis":null}}}]}
 ]},
 {"bounds":"flush","spacing":5,"vconcat":[
  {"width":205,"height":37,"data":{"name":"motif"},"encoding":{"x":{"field":"i","type":"quantitative","scale":{"domain":[-0.45,14.45],"nice":false,"zero":false},"axis":null}},
   "layer":[{"mark":{"type":"text","font":"DejaVu Sans","fontSize":19,"baseline":"middle","dy":2,"color":"black"},"encoding":{"text":{"field":"ch"}}},
            {"transform":[{"filter":"datum.i === 13"}],"mark":{"type":"rect","width":16,"fill":"transparent","stroke":"#e0282a","strokeWidth":1.5},"encoding":{}}]},
  {"width":205,"height":193,"view":{"fill":"#EBEBEB","stroke":null},
   "data":{"values":[{"base":"A","group":"WT","beta":49.5,"lo":46.3,"hi":53.5},{"base":"C","group":"SNPs","beta":31.0,"lo":26.0,"hi":36.4},{"base":"G","group":"SNPs","beta":88.1,"lo":82.4,"hi":94.4},{"base":"T","group":"SNPs","beta":22.1,"lo":17.0,"hi":27.5}]},
   "encoding":{"x":{"field":"base","type":"nominal","sort":null,"scale":{"paddingInner":0.1,"paddingOuter":0.15},"axis":{"title":null,"labelAngle":0,"grid":true,"gridWidth":1.1}}},
   "layer":[
    {"mark":"bar","encoding":{"y":{"field":"beta","type":"quantitative","scale":{"domain":[-4.72,99.12],"nice":false,"zero":false},"axis":{"title":"Influence on TAD borders (beta)","values":[0,12.5,25,37.5,50,62.5,75,87.5],"labelExpr":"datum.value % 25 === 0 ? datum.label : ''","gridWidth":{"condition":{"test":"datum.value % 25 === 0","value":1.1},"value":0.5},"tickOpacity":{"condition":{"test":"datum.value % 25 === 0","value":1},"value":0}}},"color":{"field":"group","type":"nominal","scale":{"domain":["WT","SNPs"],"range":["#7a7a7a","#a6a6a6"]},"legend":null}}},
    {"mark":{"type":"rule","color":"black"},"encoding":{"y":{"field":"lo","type":"quantitative","scale":{"domain":[-4.72,99.12],"nice":false,"zero":false}},"y2":{"field":"hi"}}},
    {"mark":{"type":"tick","color":"black","size":16,"thickness":1},"encoding":{"y":{"field":"lo","type":"quantitative","scale":{"domain":[-4.72,99.12],"nice":false,"zero":false}}}},
    {"mark":{"type":"tick","color":"black","size":16,"thickness":1},"encoding":{"y":{"field":"hi","type":"quantitative","scale":{"domain":[-4.72,99.12],"nice":false,"zero":false}}}}]},
  {"width":205,"height":28,"data":{"values":[{}]},"layer":[
   {"mark":{"type":"rule","color":"#1a1a1a"},"encoding":{"x":{"datum":0.68,"type":"quantitative","scale":{"domain":[0.4,4.6]},"axis":null},"x2":{"datum":1.33},"y":{"datum":16.5,"type":"quantitative","scale":{"domain":[0,28]},"axis":null}}},
   {"mark":{"type":"rule","color":"#1a1a1a"},"encoding":{"x":{"datum":0.68,"type":"quantitative","scale":{"domain":[0.4,4.6]},"axis":null},"y":{"datum":16.5,"type":"quantitative","scale":{"domain":[0,28]},"axis":null},"y2":{"datum":21.3}}},
   {"mark":{"type":"rule","color":"#1a1a1a"},"encoding":{"x":{"datum":1.33,"type":"quantitative","scale":{"domain":[0.4,4.6]},"axis":null},"y":{"datum":16.5,"type":"quantitative","scale":{"domain":[0,28]},"axis":null},"y2":{"datum":21.3}}},
   {"mark":{"type":"rule","color":"#1a1a1a"},"encoding":{"x":{"datum":1.78,"type":"quantitative","scale":{"domain":[0.4,4.6]},"axis":null},"x2":{"datum":4.22},"y":{"datum":16.5,"type":"quantitative","scale":{"domain":[0,28]},"axis":null}}},
   {"mark":{"type":"rule","color":"#1a1a1a"},"encoding":{"x":{"datum":1.78,"type":"quantitative","scale":{"domain":[0.4,4.6]},"axis":null},"y":{"datum":16.5,"type":"quantitative","scale":{"domain":[0,28]},"axis":null},"y2":{"datum":21.3}}},
   {"mark":{"type":"rule","color":"#1a1a1a"},"encoding":{"x":{"datum":4.22,"type":"quantitative","scale":{"domain":[0.4,4.6]},"axis":null},"y":{"datum":16.5,"type":"quantitative","scale":{"domain":[0,28]},"axis":null},"y2":{"datum":21.3}}},
   {"mark":{"type":"text","text":"WT","font":"Liberation Sans","fontSize":11.5,"baseline":"middle","color":"black"},"encoding":{"x":{"datum":1,"type":"quantitative","scale":{"domain":[0.4,4.6]},"axis":null},"y":{"datum":7,"type":"quantitative","scale":{"domain":[0,28]},"axis":null}}},
   {"mark":{"type":"text","text":"SNPs","font":"Liberation Sans","fontSize":11.5,"baseline":"middle","color":"black"},"encoding":{"x":{"datum":3,"type":"quantitative","scale":{"domain":[0.4,4.6]},"axis":null},"y":{"datum":7,"type":"quantitative","scale":{"domain":[0,28]},"axis":null}}}]}
 ]}
]}
]
}
